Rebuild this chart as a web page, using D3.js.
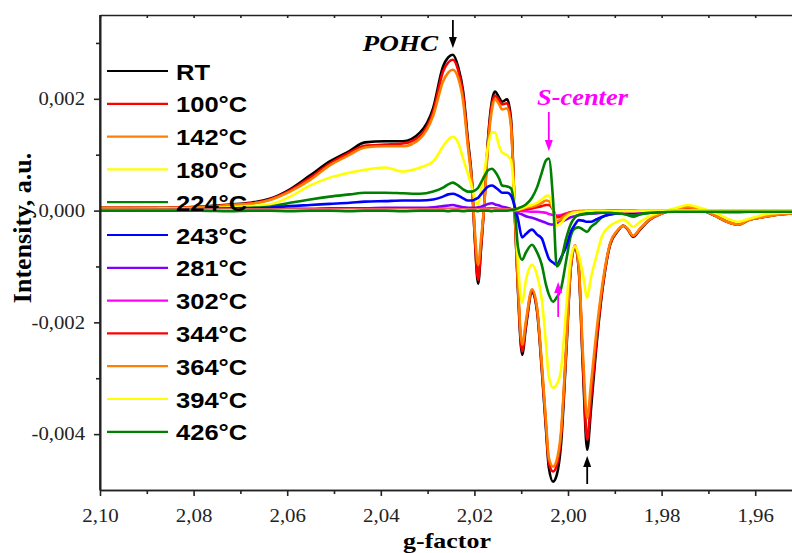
<!DOCTYPE html>
<html><head><meta charset="utf-8">
<script src="https://cdn.jsdelivr.net/npm/d3@7"></script>
<style>body{margin:0;background:#fff;overflow:hidden} svg{display:block}</style>
</head><body><svg id="c" width="792" height="553"></svg>
<script>
// g-factor sampling points (shared by all spectra)
const gFactor = [2.1000,2.0872,2.0786,2.0722,2.0679,2.0637,2.0594,2.0551,2.0509,2.0466,
2.0434,2.0391,2.0353,2.0316,2.0288,2.0267,2.0256,2.0246,2.0235,2.0224,
2.0214,2.0205,2.0199,2.0192,2.0186,2.0179,2.0171,2.0162,2.0156,2.0147,
2.0141,2.0130,2.0122,2.0113,2.0107,2.0098,2.0090,2.0077,2.0066,2.0056,
2.0047,2.0041,2.0032,2.0024,2.0015,2.0004,1.9994,1.9985,1.9977,1.9968,
1.9959,1.9951,1.9940,1.9927,1.9910,1.9895,1.9882,1.9872,1.9861,1.9846,
1.9825,1.9799,1.9771,1.9744,1.9718,1.9686,1.9660,1.9637,1.9611,1.9579,
1.9547,1.9515];

// intensities in units of 1e-3 a.u.
const sRT = [0.05,0.05,0.07,0.11,0.14,0.21,0.38,0.63,0.88,1.07,
1.22,1.24,1.24,1.40,1.84,2.58,2.74,2.79,2.58,2.13,
1.27,0.50,-0.52,-1.31,-0.70,0.11,1.27,1.99,2.13,2.02,
1.95,1.99,1.66,-0.21,-1.41,-2.58,-2.09,-1.47,-1.81,-2.85,
-3.92,-4.60,-4.85,-4.73,-4.19,-2.58,-1.02,-0.64,-1.06,-2.85,
-4.28,-3.56,-2.49,-1.45,-0.61,-0.38,-0.27,-0.34,-0.47,-0.34,
-0.16,-0.05,0.02,0.05,0.02,-0.09,-0.20,-0.25,-0.16,-0.11,
-0.07,-0.05];
const s100 = [0.05,0.05,0.07,0.10,0.13,0.20,0.36,0.59,0.84,1.04,
1.16,1.18,1.20,1.34,1.77,2.49,2.65,2.70,2.52,2.06,
1.22,0.47,-0.50,-1.24,-0.66,0.10,1.22,1.92,2.06,1.97,
1.90,1.92,1.59,-0.20,-1.37,-2.52,-2.04,-1.45,-1.78,-2.80,
-3.85,-4.51,-4.67,-4.56,-4.05,-2.50,-1.00,-0.63,-1.03,-2.76,
-4.10,-3.38,-2.40,-1.42,-0.60,-0.37,-0.27,-0.34,-0.46,-0.33,
-0.16,-0.05,0.02,0.05,0.02,-0.09,-0.20,-0.25,-0.16,-0.11,
-0.07,-0.05];
const s142 = [0.05,0.05,0.06,0.10,0.12,0.19,0.34,0.55,0.81,1.00,
1.13,1.15,1.15,1.29,1.70,2.31,2.47,2.52,2.38,1.95,
1.15,0.44,-0.38,-0.97,-0.52,0.10,1.15,1.83,1.99,1.90,
1.81,1.83,1.52,-0.18,-1.30,-2.40,-1.98,-1.41,-1.74,-2.74,
-3.78,-4.42,-4.58,-4.46,-3.96,-2.45,-0.98,-0.62,-1.00,-2.58,
-3.71,-3.11,-2.22,-1.35,-0.58,-0.36,-0.27,-0.33,-0.45,-0.32,
-0.15,-0.05,0.03,0.06,0.03,-0.09,-0.20,-0.25,-0.16,-0.11,
-0.07,-0.05];
const s180 = [0.02,0.03,0.04,0.06,0.08,0.11,0.25,0.45,0.59,0.68,
0.73,0.77,0.70,0.77,0.88,1.15,1.27,1.32,1.22,0.93,
0.66,0.41,0.20,0.11,0.36,0.66,1.15,1.40,1.40,1.15,
1.04,0.99,0.90,0.05,-0.90,-1.65,-1.25,-0.97,-1.16,-1.59,
-2.40,-2.97,-3.17,-3.11,-2.85,-1.77,-0.85,-0.64,-0.80,-1.15,
-1.56,-1.20,-0.84,-0.45,-0.27,-0.20,-0.16,-0.21,-0.29,-0.20,
-0.10,-0.02,0.04,0.10,0.05,-0.04,-0.14,-0.20,-0.14,-0.07,
-0.04,-0.03];
const s224 = [0.01,0.02,0.03,0.04,0.05,0.07,0.14,0.20,0.25,0.29,
0.32,0.32,0.31,0.30,0.34,0.41,0.47,0.50,0.45,0.38,
0.34,0.34,0.36,0.41,0.50,0.61,0.72,0.75,0.70,0.57,
0.45,0.43,0.40,-0.05,-0.65,-0.88,-0.75,-0.61,-0.75,-0.97,
-1.33,-1.50,-1.63,-1.55,-1.40,-0.90,-0.45,-0.32,-0.30,-0.34,
-0.38,-0.29,-0.22,-0.12,-0.07,-0.05,-0.05,-0.08,-0.11,-0.07,
-0.04,-0.02,-0.01,0.00,-0.01,-0.02,-0.03,-0.03,-0.02,-0.02,
-0.02,-0.02];
const s243 = [0.01,0.01,0.02,0.03,0.04,0.05,0.08,0.10,0.12,0.14,
0.16,0.17,0.18,0.18,0.20,0.25,0.29,0.30,0.27,0.22,
0.18,0.18,0.20,0.23,0.29,0.36,0.43,0.45,0.42,0.36,
0.32,0.32,0.27,0.05,-0.15,-0.48,-0.42,-0.34,-0.43,-0.50,
-0.72,-0.86,-0.93,-0.97,-0.84,-0.65,-0.38,-0.25,-0.17,-0.18,
-0.20,-0.20,-0.16,-0.11,-0.07,-0.05,-0.04,-0.04,-0.05,-0.04,
-0.03,-0.02,-0.01,-0.01,-0.01,-0.01,-0.02,-0.02,-0.01,-0.01,
-0.01,-0.01];
const s281 = [0.01,0.01,0.01,0.02,0.02,0.02,0.03,0.03,0.04,0.04,
0.04,0.05,0.05,0.05,0.06,0.08,0.09,0.10,0.08,0.06,
0.05,0.05,0.05,0.06,0.07,0.09,0.12,0.13,0.11,0.09,
0.07,0.05,0.03,-0.01,-0.04,-0.07,-0.10,-0.13,-0.16,-0.19,
-0.22,-0.24,-0.25,-0.23,-0.20,-0.16,-0.12,-0.10,-0.08,-0.07,
-0.06,-0.05,-0.05,-0.04,-0.03,-0.03,-0.02,-0.02,-0.02,-0.02,
-0.02,-0.01,-0.01,-0.01,-0.01,-0.01,-0.01,-0.01,-0.01,-0.01,
-0.01,-0.01];
const s302 = [0.01,0.01,0.01,0.01,0.01,0.01,0.01,0.02,0.02,0.02,
0.02,0.02,0.02,0.02,0.02,0.03,0.03,0.03,0.03,0.02,
0.02,0.02,0.02,0.02,0.03,0.03,0.04,0.04,0.04,0.03,
0.03,0.02,0.02,0.01,0.00,-0.01,-0.01,-0.02,-0.02,-0.03,
-0.04,-0.06,-0.08,-0.09,-0.08,-0.05,-0.03,-0.02,-0.02,-0.02,
-0.01,-0.01,-0.01,-0.01,-0.01,-0.01,-0.01,-0.01,-0.01,-0.01,
-0.01,0.00,0.00,0.00,0.00,0.00,0.00,0.00,0.00,0.00,
0.00,0.00];
const s344 = [0.01,0.01,0.01,0.01,0.01,0.01,0.01,0.01,0.01,0.01,
0.01,0.01,0.01,0.01,0.01,0.01,0.01,0.01,0.01,0.01,
0.01,0.01,0.01,0.01,0.01,0.01,0.01,0.01,0.01,0.01,
0.01,0.01,0.01,0.01,0.01,0.02,0.03,0.04,0.06,0.08,
0.10,0.10,0.02,-0.12,-0.10,-0.06,-0.03,-0.02,-0.01,-0.01,
-0.01,-0.01,-0.01,-0.01,0.00,0.00,0.00,0.00,0.00,0.00,
0.00,0.00,0.00,0.00,0.00,0.00,0.00,0.00,0.00,0.00,
0.00,0.00];
const s364 = [0.01,0.01,0.01,0.01,0.01,0.01,0.01,0.01,0.01,0.01,
0.01,0.01,0.01,0.01,0.01,0.01,0.01,0.01,0.01,0.01,
0.01,0.01,0.01,0.01,0.01,0.01,0.01,0.01,0.01,0.01,
0.01,0.01,0.01,0.01,0.01,0.03,0.05,0.07,0.10,0.14,
0.18,0.17,0.03,-0.19,-0.15,-0.08,-0.04,-0.02,-0.02,-0.01,
-0.01,-0.01,-0.01,-0.01,-0.01,-0.01,0.00,0.00,0.00,0.00,
0.00,0.00,0.00,0.00,0.00,0.00,0.00,0.00,0.00,0.00,
0.00,0.00];
const s394 = [0.01,0.01,0.01,0.01,0.01,0.01,0.01,0.01,0.01,0.01,
0.01,0.01,0.01,0.01,0.01,0.01,0.01,0.01,0.01,0.01,
0.01,0.01,0.01,0.01,0.01,0.01,0.01,0.01,0.01,0.01,
0.01,0.01,0.01,0.01,0.02,0.04,0.07,0.10,0.14,0.20,
0.26,0.27,0.05,-0.27,-0.22,-0.12,-0.06,-0.03,-0.02,-0.02,
-0.01,-0.01,-0.01,-0.01,-0.01,-0.01,-0.01,-0.01,-0.01,0.00,
0.00,0.00,0.00,0.00,0.00,0.00,0.00,0.00,0.00,0.00,
0.00,0.00];
const s426 = [0.00,0.00,0.00,-0.01,0.00,0.00,-0.01,0.00,0.00,-0.01,
0.00,0.00,-0.01,0.00,0.00,0.00,-0.01,0.00,0.00,-0.01,
0.00,0.00,0.00,-0.01,0.00,0.00,0.00,-0.01,0.00,0.00,
0.00,0.00,0.01,0.02,0.04,0.07,0.11,0.23,0.42,0.68,
0.90,0.93,0.20,-1.00,-0.88,-0.50,-0.24,-0.12,-0.08,-0.06,
-0.05,-0.05,-0.04,-0.04,-0.04,-0.05,-0.06,-0.08,-0.09,-0.06,
-0.04,-0.03,-0.02,-0.02,-0.02,-0.02,-0.02,-0.02,-0.02,-0.02,
-0.02,-0.02];

const seriesNames = ["RT","100°C","142°C","180°C","224°C","243°C","281°C","302°C","344°C","364°C","394°C","426°C"];
const seriesValues = [sRT,s100,s142,s180,s224,s243,s281,s302,s344,s364,s394,s426];
const seriesColors = ["#000000","#ff0000","#ff8000","#ffff00","#008000","#0000ff","#8000ff","#ff00ff","#ff0000","#ff8000","#ffff00","#008000"];
const unit = 1e-3;

const xMajor = [2.10,2.08,2.06,2.04,2.02,2.00,1.98,1.96];
const xMinor = [2.09,2.07,2.05,2.03,2.01,1.99,1.97];
const yMajor = [0.002,0.000,-0.002,-0.004];
const yMinor = [0.003,0.001,-0.001,-0.003];

const L=100, R=792, T=15, B=490;
const SERIF="'Liberation Serif','Times New Roman',serif", SANS="'Liberation Sans',Arial,sans-serif";
const svg = d3.select("#c");
const x = d3.scaleLinear().domain([2.10,1.95214]).range([L,R]);
const y = d3.scaleLinear().domain([-0.005,0.0035]).range([B,T]);
const loc = d3.formatLocale({decimal:",",thousands:".",grouping:[3],currency:["",""],minus:"-"});
const fx = loc.format(".2f"), fy = loc.format(".3f");

function stretch(sel,k){
  sel.each(function(){
    const w=this.getComputedTextLength();
    d3.select(this).attr("textLength",w*k).attr("lengthAdjust","spacingAndGlyphs");
  });
}

svg.append("defs").append("clipPath").attr("id","clip")
  .append("rect").attr("x",L).attr("y",T).attr("width",R-L).attr("height",B-T);

// curves
const line = d3.line().x(d=>x(d[0])).y(d=>y(d[1]*unit)).curve(d3.curveMonotoneX);
const plot = svg.append("g").attr("clip-path","url(#clip)");
seriesValues.forEach((vals,i)=>{
  plot.append("path").datum(gFactor.map((g,j)=>[g,vals[j]]))
    .attr("d",line).attr("fill","none").attr("stroke",seriesColors[i])
    .attr("stroke-width",2.6).attr("stroke-linejoin","round");
});

// axes
const axStyle = g=>{g.selectAll("path,line").attr("stroke","#222").attr("stroke-width",1.6);
  g.selectAll("text").attr("font-family",SERIF).attr("font-size",18).attr("fill","#222");};
const xb = svg.append("g").attr("transform",`translate(0,${B})`)
  .call(d3.axisBottom(x).tickValues(xMajor).tickFormat(fx).tickSize(6).tickSizeOuter(0).tickPadding(13)).call(axStyle);
svg.append("g").attr("transform",`translate(0,${B})`)
  .call(d3.axisBottom(x).tickValues(xMinor).tickFormat("").tickSize(4).tickSizeOuter(0)).call(axStyle);
const yl = svg.append("g").attr("transform",`translate(${L},0)`)
  .call(d3.axisLeft(y).tickValues(yMajor).tickFormat(fy).tickSize(6).tickSizeOuter(0).tickPadding(9)).call(axStyle);
svg.append("g").attr("transform",`translate(${L},0)`)
  .call(d3.axisLeft(y).tickValues(yMinor).tickFormat("").tickSize(4).tickSizeOuter(0)).call(axStyle);
svg.append("g").attr("transform",`translate(0,${T})`)
  .call(d3.axisBottom(x).tickValues(xMajor.concat(xMinor)).tickFormat("").tickSize(3).tickSizeOuter(0)).call(axStyle);
svg.append("line").attr("x1",L).attr("x2",L).attr("y1",T).attr("y2",B).attr("stroke","#222").attr("stroke-width",1.6);
stretch(xb.selectAll("text"),1.16);
stretch(yl.selectAll("text"),1.15);

// axis titles
stretch(svg.append("text").attr("x",447).attr("y",548).attr("text-anchor","middle")
  .attr("font-family",SERIF).attr("font-weight","bold").attr("font-size",22).text("g-factor"),1.18);
svg.append("text").attr("transform","translate(31,228) rotate(-90)").attr("text-anchor","middle")
  .attr("font-family",SERIF).attr("font-weight","bold").attr("font-size",26).text("Intensity, a.u.");

// legend
const leg = svg.append("g");
seriesNames.forEach((n,i)=>{
  const ly = 71 + i*32.8;
  leg.append("line").attr("x1",107).attr("x2",168).attr("y1",ly).attr("y2",ly)
    .attr("stroke",seriesColors[i]).attr("stroke-width",2.2);
  stretch(leg.append("text").attr("x",176).attr("y",ly+8.5)
    .attr("font-family",SANS).attr("font-weight","bold").attr("font-size",22).text(n),1.16);
});

// annotations
function arrow(xg, y1, y2, color){
  const xp = x(xg), dir = y2>y1?1:-1, hl=11, hw=4;
  svg.append("line").attr("x1",xp).attr("x2",xp).attr("y1",y1).attr("y2",y2-dir*hl+dir*1)
    .attr("stroke",color).attr("stroke-width",1.8);
  svg.append("path").attr("d",`M${xp-hw},${y2-dir*hl} L${xp+hw},${y2-dir*hl} L${xp},${y2} Z`).attr("fill",color);
}
stretch(svg.append("text").attr("x",438).attr("y",51).attr("text-anchor","end")
  .attr("font-family",SERIF).attr("font-weight","bold").attr("font-style","italic")
  .attr("font-size",23).text("POHC"),1.18);
arrow(2.0246, 20, 48, "#000");
stretch(svg.append("text").attr("x",537).attr("y",105)
  .attr("font-family",SERIF).attr("font-weight","bold").attr("font-style","italic")
  .attr("font-size",24).attr("fill","#ff00ff").text("S-center"),1.1);
arrow(2.0041, 112, 151, "#ff00ff");
arrow(2.0021, 317, 282, "#ff00ff");
arrow(1.9959, 484, 456, "#000");
</script></body></html>
